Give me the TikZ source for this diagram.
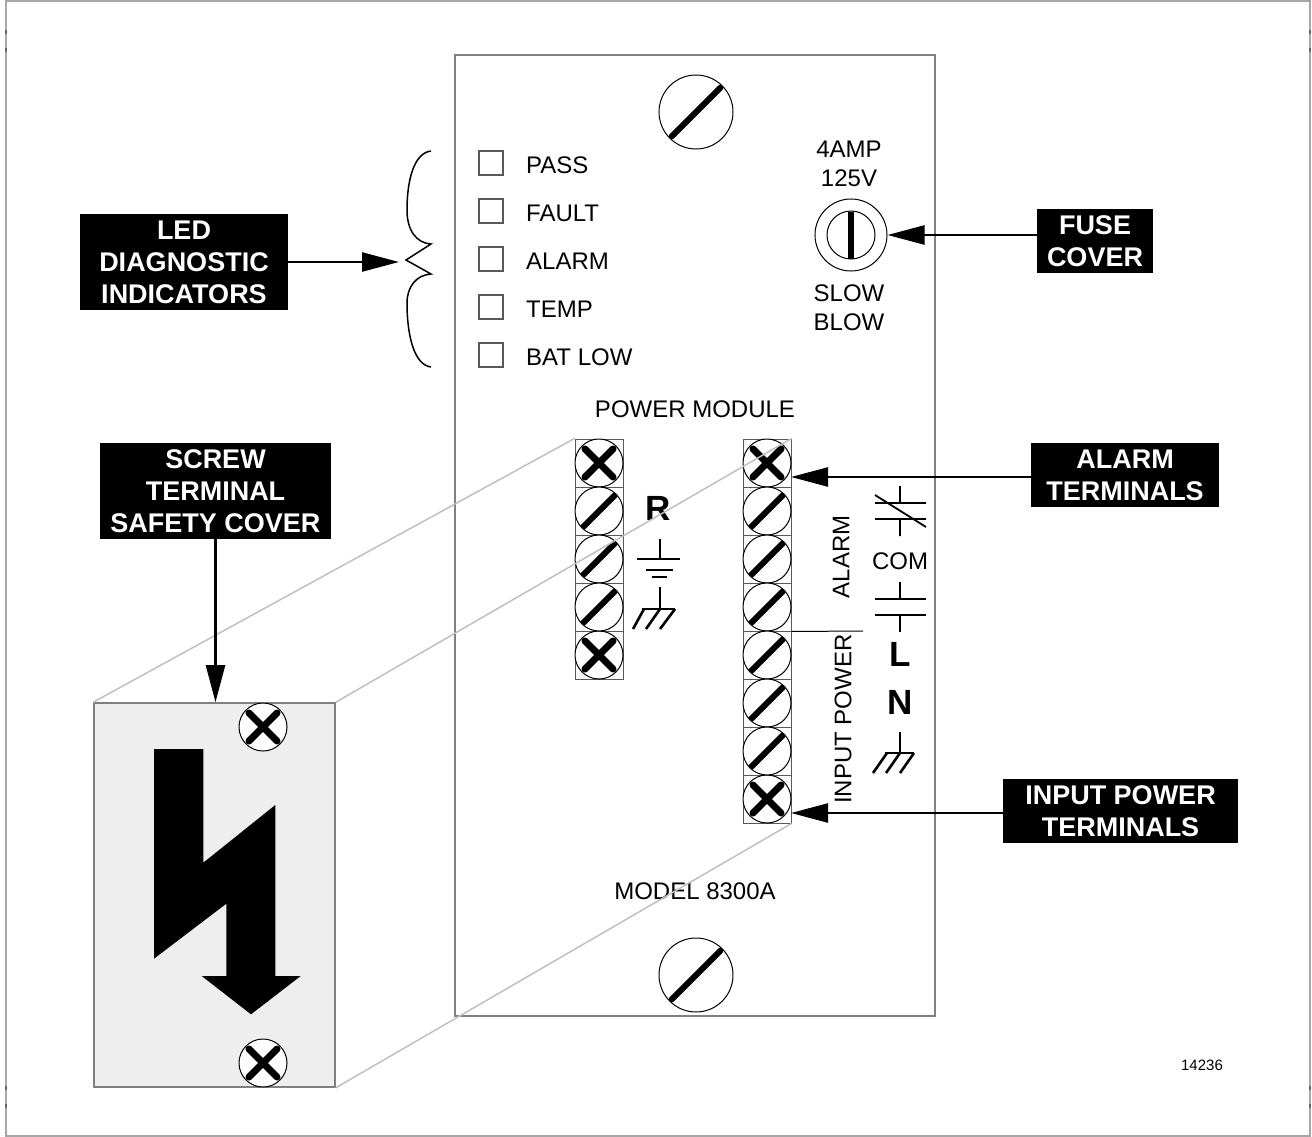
\documentclass[tikz,border=0pt]{standalone}
\usepackage{fontspec}
\setmainfont{Liberation Sans}
\usetikzlibrary{arrows.meta}
\definecolor{CoverGray}{HTML}{EEEEEE}
\definecolor{EdgeGray}{HTML}{808080}
\definecolor{GuideGray}{HTML}{C0C0C0}

\tikzset{
  slotscrew/.style={circle, draw, fill=white, inner sep=0pt, minimum size=#1, line width=1pt,
    path picture={\draw[line width=6pt, line cap=round]
      ([shift={(-0.33*#1,-0.33*#1)}]path picture bounding box.center) --
      ([shift={(0.33*#1,0.33*#1)}]path picture bounding box.center);}},
  crossscrew/.style={circle, draw, fill=white, inner sep=0pt, minimum size=48pt, line width=1pt,
    path picture={\draw[line width=7pt, line cap=round]
      ([shift={(-14,14)}]path picture bounding box.center) --
      ([shift={(14,-14)}]path picture bounding box.center)
      ([shift={(-14,-14)}]path picture bounding box.center) --
      ([shift={(14,14)}]path picture bounding box.center);}},
  callout/.style={fill=black, text=white, font=\fontsize{27}{32}\selectfont\bfseries,
    align=center, inner sep=0pt},
  plain/.style={font=\fontsize{24}{29}\selectfont, inner sep=0pt, align=center},
  heavy/.style={font=\fontsize{35}{35}\selectfont\bfseries, inner sep=0pt},
  leader/.style={line width=2.4pt, -{Triangle[length=37pt,width=19pt]}},
  cell/.style={draw=black!65, line width=1pt, minimum width=48pt, minimum height=48pt, inner sep=0pt},
  lamp/.style={draw=black!65, line width=1.2pt, minimum width=24pt, minimum height=24pt, inner sep=0pt},
  wire/.style={line width=1.8pt},
  hatch/.style={line width=2.6pt}
}

\begin{document}
\begin{tikzpicture}[x=1pt, y=-1pt]
  \useasboundingbox (0,0) rectangle (1312,1137);
  % page frame
  \draw[black!35, line width=2pt] (6,1) -- (1310,1) -- (1310,1136) -- (6,1136) -- cycle;
  \foreach \yy in {32,50,1088,1106} {
    \draw[black!60, line width=2pt] (6,\yy-2) -- (6,\yy+2);
    \draw[black!60, line width=2pt] (1310,\yy-2) -- (1310,\yy+2);
  }

  % panel
  \node[draw=EdgeGray, line width=1.6pt, minimum width=480pt, minimum height=961pt, inner sep=0pt] (panel) at (695,535.5) {};
  \node[slotscrew=74pt] (topscrew) at (696,112) {};
  \node[slotscrew=74pt] (botscrew) at (696,975) {};

  % leds
  \foreach \name/\yy in {PASS/163, FAULT/211, ALARM/259, TEMP/307, BAT LOW/355} {
    \node[lamp] at (491,\yy) {};
    \node[plain, anchor=west] at (526,\yy+2) {\name};
  }
  \draw[wire, line width=1.5pt] (431,151) .. controls (414,153) and (407,180) .. (407,210)
    .. controls (407,230) and (416,243) .. (431,244) -- (406,260) -- (431,274)
    .. controls (416,275) and (407,287) .. (407,303)
    .. controls (407,335) and (414,365) .. (431,367);
  \coordinate (bracetip) at (399,262);

  % fuse
  \node[plain] at (849,164) {4AMP\\125V};
  \node[plain] at (849,308) {SLOW\\BLOW};
  \node[circle, draw, line width=1pt, minimum size=72pt, inner sep=0pt] (fuse) at (851,235) {};
  \node[circle, draw, line width=1pt, minimum size=48pt, inner sep=0pt] (fusecap) at (851,235) {};
  \draw[line width=5.5pt] (851,212) -- (851,259);

  \node[plain] at (695,409) {POWER MODULE};
  \node[plain] at (695,891) {MODEL 8300A};

  % terminal blocks
  \foreach \nn in {1,...,5} {
    \node[cell] (lcell\nn) at (599,439+48*\nn-24) {};
  }
  \foreach \nn in {1,...,8} {
    \node[cell] (rcell\nn) at (767,439+48*\nn-24) {};
  }
  \foreach \nn in {1,5} { \node[crossscrew] at (lcell\nn) {}; }
  \foreach \nn in {2,3,4} { \node[slotscrew=48pt] at (lcell\nn) {}; }
  \foreach \nn in {1,8} { \node[crossscrew] at (rcell\nn) {}; }
  \foreach \nn in {2,...,7} { \node[slotscrew=48pt] at (rcell\nn) {}; }

  \node[heavy] at (658,508) {R};
  \draw[wire] (660,539) -- (660,559) (637,559) -- (680,559) (646,570) -- (673,570) (652,577) -- (667,577);
  \draw[wire] (660,587) -- (660,609) (642,609) -- (675,609);
  \draw[hatch] (644,609) -- (633,629) (660,609) -- (646,629) (675,609) -- (660,629);

  \draw[line width=1pt] (rcell4.south east) -- (863,631);
  \node[plain, rotate=90] at (841,557) {ALARM};
  \node[plain, rotate=90] at (843,719) {INPUT POWER};

  \draw[wire] (900,486) -- (900,503) (875,503) -- (926,503) (875,519) -- (926,519) (900,519) -- (900,536) (875,495) -- (926,527);
  \node[plain] at (900,561) {COM};
  \draw[wire] (900,582) -- (900,599) (875,599) -- (926,599) (875,615) -- (926,615) (900,615) -- (900,632);
  \node[heavy] at (900,654) {L};
  \node[heavy] at (900,702) {N};
  \draw[wire] (900,732) -- (900,753) (885,753) -- (914,753);
  \draw[hatch] (887,753) -- (873,773) (900,753) -- (886,773) (914,753) -- (900,773);

  % safety cover
  \node[draw=EdgeGray, fill=CoverGray, line width=1.6pt, minimum width=241pt, minimum height=384pt, inner sep=0pt] (cover) at (214.5,895) {};
  \fill (154,749) -- (203.3,749) -- (203.3,862.7) -- (275.3,805) -- (275.3,976) -- (300.7,976) -- (251,1014.3)
    -- (201.7,976) -- (226.3,976) -- (226.3,903.7) -- (154,958.7) -- cycle;
  \node[crossscrew] (covertop) at (263,727) {};
  \node[crossscrew] (coverbot) at (263,1063) {};
  \draw[GuideGray, line width=1.5pt] (lcell1.north west) -- (cover.north west);
  \draw[GuideGray, line width=1.5pt] (rcell1.north east) -- (cover.north east);
  \draw[GuideGray, line width=1.5pt] (rcell8.south east) -- (cover.south east);

  % callouts
  \node[callout, minimum width=208pt, minimum height=96pt] (ledlabel) at (184,262) {LED\\DIAGNOSTIC\\INDICATORS};
  \node[callout, minimum width=116pt, minimum height=64pt] (fuselabel) at (1095,241) {FUSE\\COVER};
  \node[callout, minimum width=231pt, minimum height=96pt] (coverlabel) at (215.5,491) {SCREW\\TERMINAL\\SAFETY COVER};
  \node[callout, minimum width=188pt, minimum height=64pt] (alarmlabel) at (1125,475) {ALARM\\TERMINALS};
  \node[callout, minimum width=235pt, minimum height=64pt] (inputlabel) at (1120.5,811) {INPUT POWER\\TERMINALS};
  \coordinate (alarmtip) at (791,477);
  \coordinate (inputtip) at (791,813);
  \draw[leader] (ledlabel.east) -- (bracetip);
  \draw[leader] (fuselabel.west |- fuse.east) -- (fuse.east);
  \draw[leader] (alarmlabel.west |- alarmtip) -- (alarmtip);
  \draw[leader] (inputlabel.west |- inputtip) -- (inputtip);
  \draw[leader] (coverlabel.south) -- (coverlabel.south |- cover.north);

  \node[font=\fontsize{15}{15}\selectfont, inner sep=0pt] at (1202,1065) {14236};
\end{tikzpicture}
\end{document}
